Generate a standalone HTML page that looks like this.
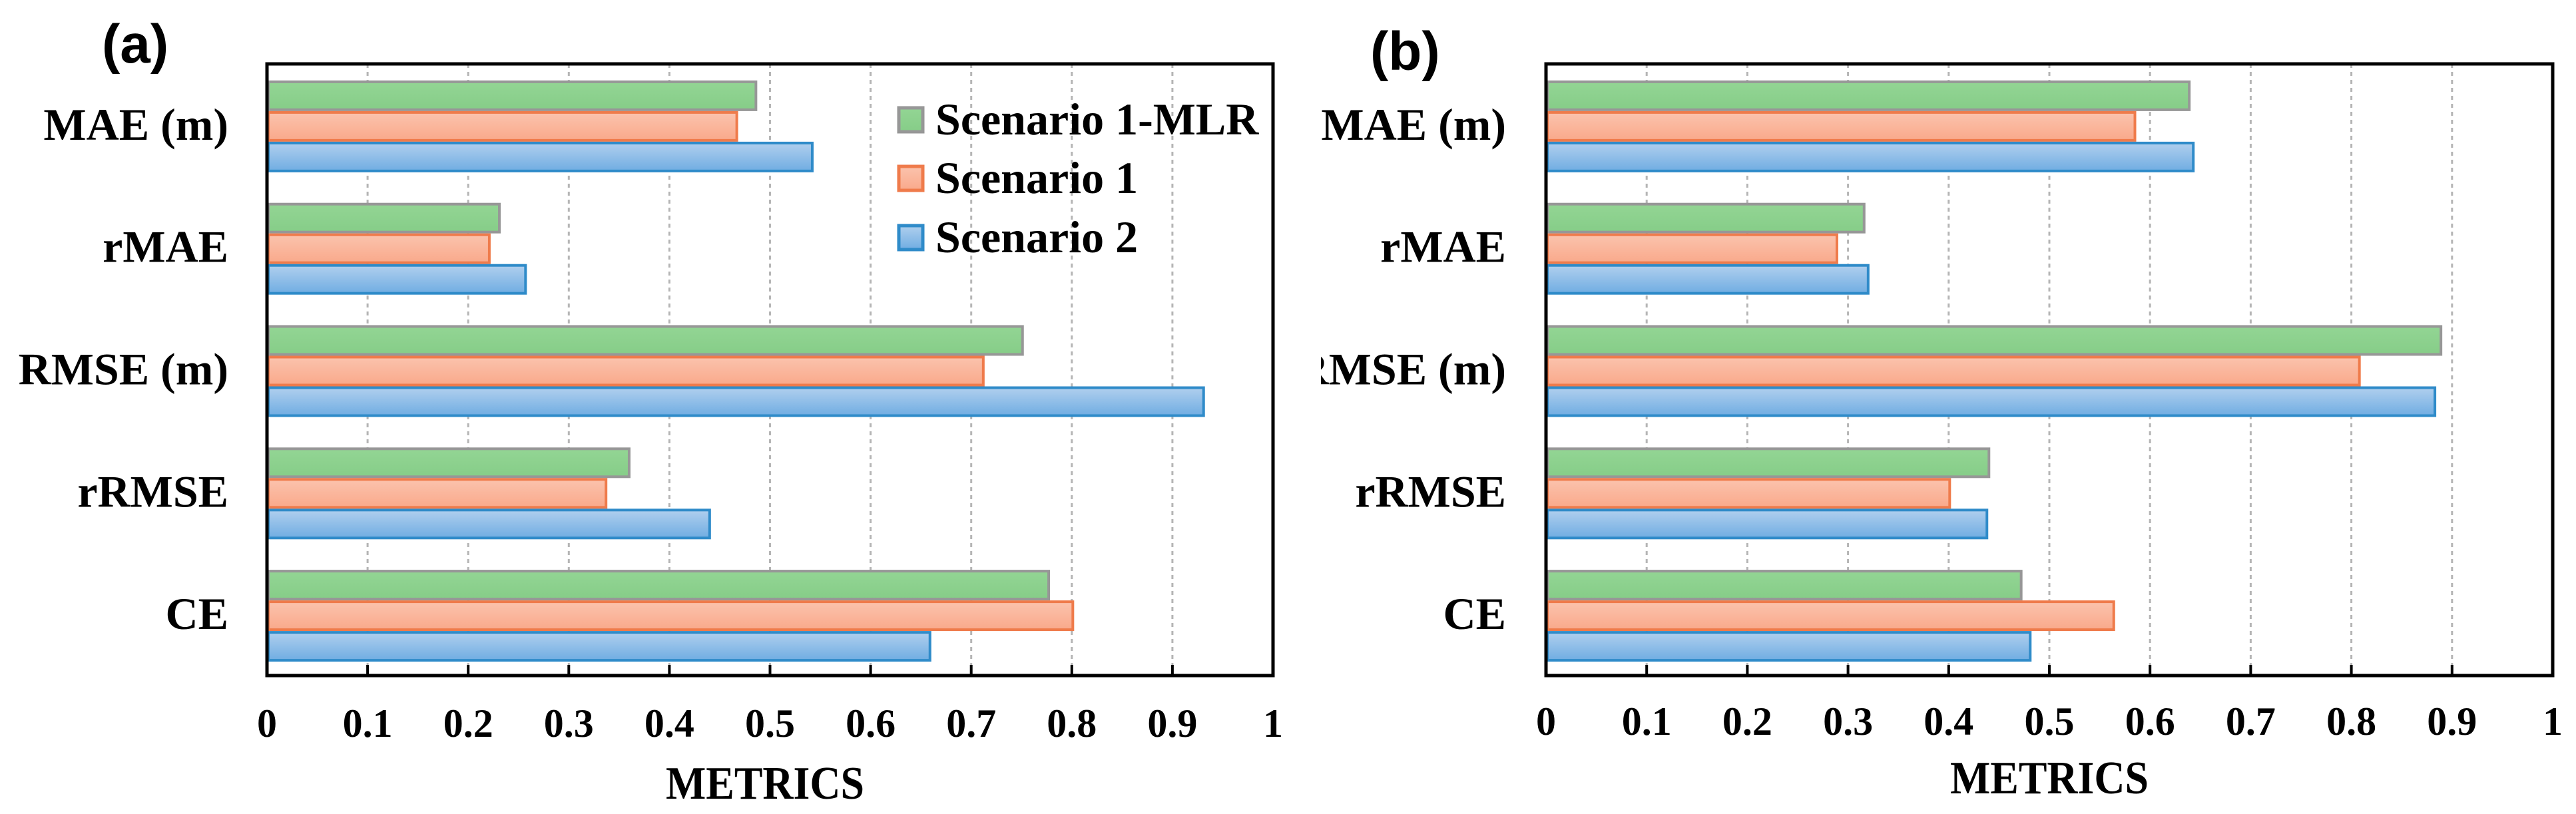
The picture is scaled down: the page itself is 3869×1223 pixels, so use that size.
<!DOCTYPE html>
<html><head><meta charset="utf-8"><style>
html,body{margin:0;padding:0;background:#fff;}
svg{display:block;}
text{font-family:"Liberation Serif",serif;font-weight:bold;fill:#000;}
</style></head><body>
<svg id="chart" width="3869" height="1223" viewBox="0 0 3869 1223" xmlns="http://www.w3.org/2000/svg">
<defs>
<linearGradient id="gG" x1="0" y1="0" x2="0" y2="1"><stop offset="0" stop-color="#93d594"/><stop offset="1" stop-color="#86cd88"/></linearGradient>
<linearGradient id="gO" x1="0" y1="0" x2="0" y2="1"><stop offset="0" stop-color="#fbc3ad"/><stop offset="1" stop-color="#f9a98b"/></linearGradient>
<linearGradient id="gB" x1="0" y1="0" x2="0" y2="1"><stop offset="0" stop-color="#b0cfee"/><stop offset="1" stop-color="#70ade2"/></linearGradient>
<clipPath id="clipB"><rect x="1984" y="0" width="1885" height="1223"/></clipPath>
</defs>
</svg>
<script>
const categories = ["MAE (m)", "rMAE", "RMSE (m)", "rRMSE", "CE"];
const seriesNames = ["Scenario 1-MLR", "Scenario 1", "Scenario 2"];
const aMLR = [0.486, 0.231, 0.751, 0.360, 0.777];
const aS1 = [0.467, 0.221, 0.712, 0.337, 0.801];
const aS2 = [0.542, 0.257, 0.931, 0.440, 0.659];
const bMLR = [0.639, 0.316, 0.889, 0.440, 0.472];
const bS1 = [0.585, 0.289, 0.808, 0.401, 0.564];
const bS2 = [0.643, 0.320, 0.883, 0.438, 0.481];
const tickLabels = ["0","0.1","0.2","0.3","0.4","0.5","0.6","0.7","0.8","0.9","1"];
const tickValues = [0,0.1,0.2,0.3,0.4,0.5,0.6,0.7,0.8,0.9,1];

const NS = "http://www.w3.org/2000/svg";
const svg = document.getElementById("chart");
const fills = ["url(#gG)","url(#gO)","url(#gB)"];
const strokes = ["#979797","#ef7b4b","#2f8bc9"];

function mk(tag, attrs, parent){
  const e = document.createElementNS(NS, tag);
  for (const k in attrs) e.setAttribute(k, attrs[k]);
  (parent||svg).appendChild(e);
  return e;
}

function panel(opt){
  const g = mk("g", {});
  
  
  if (opt.clip) g.setAttribute("clip-path", opt.clip);
  const L = opt.left, R = opt.right, T = 96, B = 1015;
  const xs = v => L + v*(R-L);
  const band = (B-T)/categories.length;
  // grid
  tickValues.forEach((v,i)=>{
    if (i===0 || i===tickValues.length-1) return;
    const gl = mk("line",{x1:xs(v),x2:xs(v),y1:T,y2:B,stroke:"#b5b5b5","stroke-width":3,"stroke-dasharray":"6,6"},g);
    
    
    const tk = mk("line",{x1:xs(v),x2:xs(v),y1:B-16,y2:B,stroke:"#000","stroke-width":4},g);
    
    
  });
  // bars
  const bh = 46;
  categories.forEach((c,ci)=>{
    const y0 = T + ci*band + band/2 - 1.5*bh + 2;
    opt.series.forEach((arr,si)=>{
      const r = mk("rect",{x:L+2,y:y0+si*bh+2,width:Math.max(0,xs(arr[ci])-L-2),height:bh-4,fill:fills[si],stroke:strokes[si],"stroke-width":4},g);
      
      
    });
    const t = mk("text",{x:opt.labelRight,y:T+ci*band+band/2+22,"text-anchor":"end","font-size":68},g);
    t.textContent = c;
    
    
  });
  // frame
  const fr = mk("rect",{x:L,y:T,width:R-L,height:B-T,fill:"none",stroke:"#000","stroke-width":5},g);
  
  
  // tick labels
  tickValues.forEach((v,i)=>{
    const t = mk("text",{x:xs(v),y:opt.tickY,"text-anchor":"middle","font-size":60},g);
    t.textContent = tickLabels[i];
    
    
  });
  const xt = mk("text",{x:opt.titleX,y:opt.titleY,"font-size":70,textLength:298,lengthAdjust:"spacingAndGlyphs"},g);
  xt.textContent = "METRICS";
  
  
  const pl = mk("text",{x:opt.tagX,y:opt.tagY,"font-size":82,style:"font-family:'Liberation Sans',sans-serif;font-weight:bold"},g);
  pl.textContent = opt.tag;
  
  
}

panel({name:"panel-a", left:401, right:1912, labelRight:343, tickY:1107, titleX:1000, titleY:1200, tag:"(a)", tagX:153, tagY:94, series:[aMLR,aS1,aS2]});
panel({name:"panel-b", left:2322, right:3834, labelRight:2262, tickY:1104, titleX:2929, titleY:1192, tag:"(b)", tagX:2058, tagY:105, series:[bMLR,bS1,bS2], clip:"url(#clipB)"});

// legend
const lg = mk("g", {});


const rowY = [180, 268, 357];
seriesNames.forEach((n,i)=>{
  const s = mk("rect",{x:1350,y:rowY[i]-18,width:36,height:36,fill:fills[i],stroke:strokes[i],"stroke-width":5},lg);
  
  
  const t = mk("text",{x:1405,y:rowY[i]+22,"font-size":68},lg);
  t.textContent = n;
  
  
});
</script>
</body></html>
